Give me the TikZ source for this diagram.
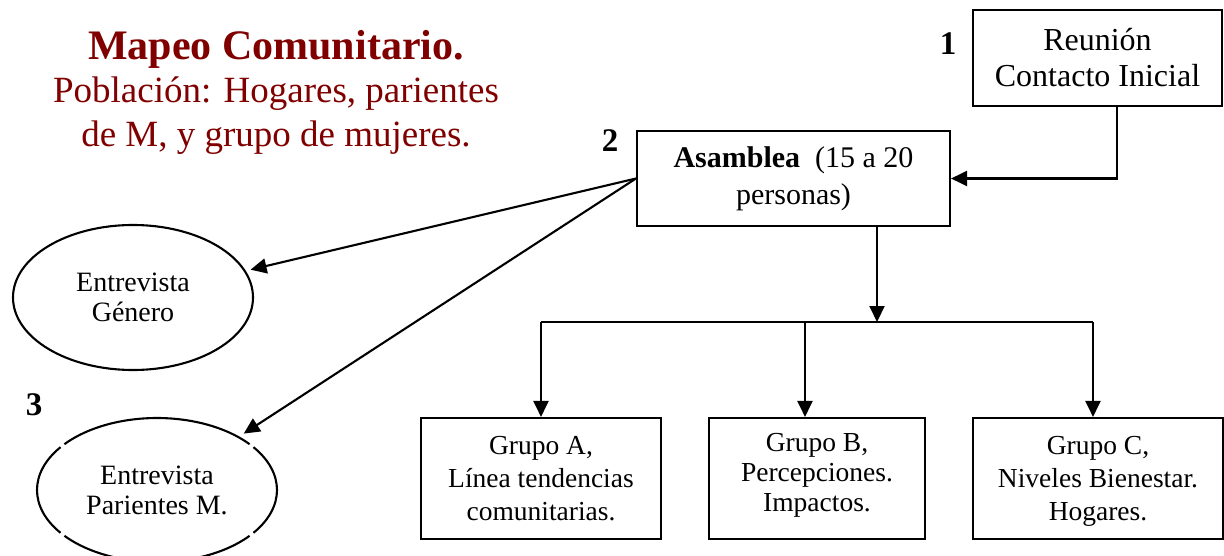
\documentclass[tikz,border=0pt]{standalone}
\usepackage{fontspec}
\setmainfont{Liberation Serif}
\usetikzlibrary{arrows.meta,shapes.geometric}
\definecolor{titlered}{HTML}{800000}
\begin{document}
\begin{tikzpicture}[x=1pt,y=-1pt,
  line width=2.1pt,
  arr/.style={-{Triangle[length=16pt,width=15pt]}},
  box/.style={draw, rectangle, inner sep=0pt, align=center},
  oval/.style={ellipse, inner sep=0pt, outer sep=0pt, align=center,
    minimum width=240pt, minimum height=145pt, font=\fontsize{28}{30}\selectfont},
  num/.style={font=\fontsize{33}{36}\selectfont\bfseries, inner sep=0pt},
  boxtext/.style={font=\fontsize{27.5}{33}\selectfont}]
\useasboundingbox (0,0) rectangle (1224,556);

% title
\node[font=\fontsize{42}{48}\selectfont\bfseries, text=titlered, anchor=base, inner sep=0pt]
  (title) at (276,60) {Mapeo Comunitario.};
\node[font=\fontsize{37}{44}\selectfont, text=titlered, align=center, anchor=base, inner sep=0pt]
  (sub) at (276,147) {Población: Hogares, parientes\\de M, y grupo de mujeres.};

% numbers
\node[num, anchor=base] (n1) at (948,55) {1};
\node[num, anchor=base] (n2) at (610,152) {2};
\node[num, anchor=base] (n3) at (34,415) {3};

% boxes
\node[box, minimum width=249pt, minimum height=96pt, font=\fontsize{32}{36}\selectfont]
  (b1) at (1097.5,58) {Reunión\\Contacto Inicial};
\node[box, minimum width=313pt, minimum height=95pt, font=\fontsize{30}{37}\selectfont]
  (b2) at (793.5,178.5) {\textbf{Asamblea}\ \ (15 a 20\\personas)};
\node[box, boxtext, minimum width=240pt, minimum height=121pt, text depth=0pt]
  (bA) at (541,478.5) {Grupo A,\\Línea tendencias\\comunitarias.};
\node[box, minimum width=216pt, minimum height=121pt, font=\fontsize{27.5}{30}\selectfont, text depth=12pt]
  (bB) at (817,478.5) {Grupo B,\\Percepciones.\\Impactos.};
\node[box, boxtext, minimum width=250pt, minimum height=121pt, text depth=0pt]
  (bC) at (1098,478.5) {Grupo C,\\Niveles Bienestar.\\Hogares.};

% ellipses
\node[oval, draw] (e1) at (133,297.5) {Entrevista\\Género};
\node[oval] (e2) at (157,490) {Entrevista\\Parientes M.};
\foreach \a/\b in {39.5/140.5, 143.5/216.5, 219.5/320.5, 323.5/396.5}
  \draw (e2.center) ++(\a:120 and 72) arc[start angle=\a, end angle=\b, x radius=120, y radius=72];

% connectors
\coordinate (c1) at (1117,0);
\draw[arr] (b1.south -| c1) |- (b2.east);
\coordinate (j) at (877,322);
\draw[arr] (b2.south -| j) -- (j);
\coordinate (ja) at (541,322);
\coordinate (jb) at (805,322);
\coordinate (jc) at (1093,322);
\draw (ja) -- (jc);
\draw[arr] (ja) -- (bA.north -| ja);
\draw[arr] (jb) -- (bB.north -| jb);
\draw[arr] (jc) -- (bC.north -| jc);
\draw[arr, shorten >=6pt] (b2.west) -- (e1);
\draw[arr, shorten >=6pt] (b2.west) -- (e2);
\end{tikzpicture}
\end{document}
